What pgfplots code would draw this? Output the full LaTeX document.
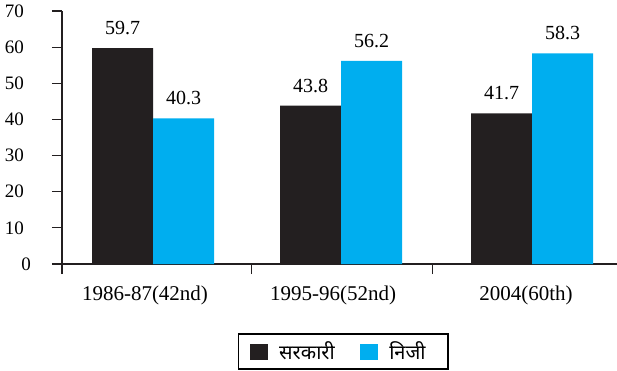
\documentclass[border=0pt]{standalone}
\usepackage{pgfplots}
\pgfplotsset{compat=1.18}
\usepackage{fontspec}
\setmainfont{Liberation Serif}
\newfontfamily\hindi[Script=Devanagari]{Noto Sans}
\definecolor{sarkari}{HTML}{231F20}
\definecolor{niji}{HTML}{00AEEF}
\definecolor{axisdark}{HTML}{231F20}

\begin{document}
\begin{tikzpicture}
\begin{axis}[
  name=ax,
  scale only axis,
  width=555pt, height=253pt,
  xmin=62, xmax=617,
  ymin=0, ymax=70,
  axis x line*=bottom,
  axis y line*=left,
  axis line style={axisdark, line width=1.2pt},
  every tick/.style={axisdark, line width=1.2pt},
  tick align=outside,
  major tick length=10pt,
  ytick={10,20,...,70},
  extra y ticks={0},
  extra y tick style={yticklabel style={xshift=7pt}},
  yticklabel style={font=\fontsize{19}{22}\selectfont, anchor=east, inner sep=0pt, xshift=-28pt},
  xtick={145,333,526},
  xticklabels={1986-87(42nd),1995-96(52nd),2004(60th)},
  x tick style={draw=none},
  xticklabel style={font=\fontsize{21}{24}\selectfont, anchor=north, inner sep=0pt, yshift=-12pt},
  extra x ticks={62,251.5,432.5},
  extra x tick labels={},
  extra x tick style={x tick style={draw=axisdark, line width=1.2pt}},
  /pgf/number format/assume math mode=true,
  ybar,
  bar width=61,
  nodes near coords,
  nodes near coords style={font=\fontsize{20}{24}\selectfont, anchor=south, inner sep=0pt, yshift=13pt,
    /pgf/number format/.cd, fixed, precision=1, zerofill},
  legend columns=2,
  legend style={at={(axis description cs:0.507,-0.2727)}, anchor=north,
    draw=black, line width=1.6pt,
    inner xsep=11pt, inner ysep=6pt,
    font=\hindi\fontsize{20}{23}\selectfont,
    nodes={inner xsep=11.5pt, inner ysep=2pt},
    /tikz/every even column/.append style={column sep=13.5pt}},
  legend image code/.code={\fill[#1, draw=none] (0pt,-8pt) rectangle (18pt,8pt);},
]
\addplot[fill=sarkari, draw=none, bar shift=-30.5] coordinates {(153,59.7) (341,43.8) (532,41.7)};
\addplot[fill=niji, draw=none, bar shift=30.5] coordinates {(153,40.3) (341,56.2) (532,58.3)};
\legend{सरकारी, निजी}
\end{axis}
\pgfresetboundingbox
\path (ax.south west) ++(-62pt,-106pt) rectangle ++(617pt,370pt);
\end{tikzpicture}
\end{document}
